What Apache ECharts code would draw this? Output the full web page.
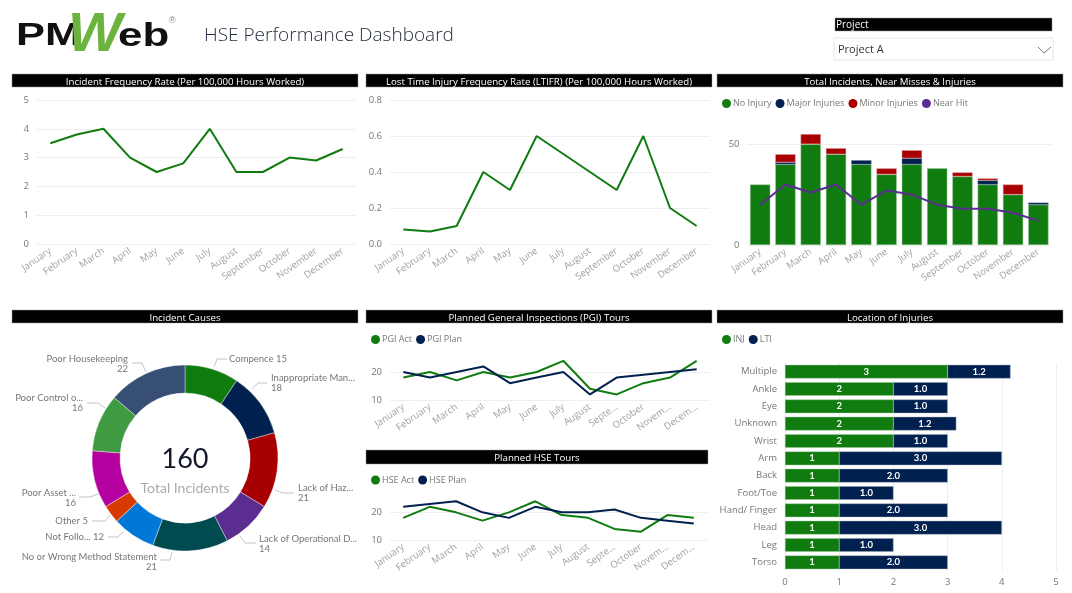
<!DOCTYPE html>
<html><head><meta charset="utf-8">
<style>html,body{margin:0;padding:0;background:#fff}#c{width:1072px;height:593px}</style>
<script src="https://cdn.jsdelivr.net/npm/echarts@6/dist/echarts.min.js"></script>
</head><body><div id="c"></div>
<script>
const months = ["January","February","March","April","May","June","July","August","September","October","November","December"];
const monthsShort = ["January","February","March","April","May","June","July","August","Septe...","October","Novem...","Decem..."];
const incidentRate = [3.5,3.8,4,3,2.5,2.8,4,2.5,2.5,3,2.9,3.3];
const ltifr = [0.08,0.07,0.1,0.4,0.3,0.6,0.5,0.4,0.3,0.6,0.2,0.1];
const noInjury = [30,40,50,45,40,35,40,38,34,30,25,20];
const majorInjuries = [0,1,0,0,2,0,3,0,0,2,0,1];
const minorInjuries = [0,4,5,3,0,3,4,0,2,1,5,0];
const nearHit = [20,30,26,30,20,27,25,20,18,18,16,12];
const pgiAct = [18,20,17,20,18,20,24,14,12,16,18,24];
const pgiPlan = [20,18,20,22,16,18,20,12,18,19,20,21];
const hseAct = [18,22,20,17,20,24,19,18,14,13,19,18];
const hsePlan = [22,23,24,20,18,22,20,20,21,18,17,16];
const causes = ["Compence","Inappropriate Man...","Lack of Haz...","Lack of Operational D...","No or Wrong Method Statement","Not Follo...","Other","Poor Asset ...","Poor Control o...","Poor Housekeeping"];
const causeValues = [15,18,21,14,21,12,5,16,16,22];
const locations = ["Multiple","Ankle","Eye","Unknown","Wrist","Arm","Back","Foot/Toe","Hand/ Finger","Head","Leg","Torso"];
const inj = [3,2,2,2,2,1,1,1,1,1,1,1];
const lti = [1.16,1,1,1.16,1,3,2,1,2,3,1,2];

const GREEN="#107c10",NAVY="#002050",RED="#a80000",PURPLE="#5c2d91";
const causeColors=[GREEN,NAVY,RED,PURPLE,"#004b50","#0078d7","#d83b01","#b4009e","#3f9a42","#374f74"];
const FONT='"Open Sans","Noto Sans",sans-serif';
const DFONT='"Lato","Noto Sans",sans-serif';

// label anchor and leader line for each donut slice
const donutPlace=[
 {x:229,y:359,a:"left",l:[[214,367],[217,359],[227,359]],one:1},
 {x:271,y:383,a:"left",l:[[252,389],[258,383],[267,383]]},
 {x:298,y:493,a:"left",l:[[275,490],[283,493],[294,493]]},
 {x:259,y:544,a:"left",l:[[240,536],[245,543],[256,543]]},
 {x:157,y:562,a:"right",l:[[172,552],[170,560],[160,560]]},
 {x:104,y:537,a:"right",l:[[124,531],[118,537],[108,537]],one:1},
 {x:88,y:521,a:"right",l:[[110,515],[105,521],[92,521]],one:1},
 {x:76,y:498,a:"right",l:[[98,494],[90,497],[79,497]]},
 {x:83,y:403,a:"right",l:[[105,408],[98,403],[87,403]]},
 {x:128,y:364,a:"right",l:[[146,372],[142,363],[132,363]]}
];

const panels=[
 {t:"Incident Frequency Rate (Per 100,000 Hours Worked)",x:12,w:346,y:74,h:13},
 {t:"Lost Time Injury Frequency Rate (LTIFR) (Per 100,000 Hours Worked)",x:366,w:346,y:74,h:13},
 {t:"Total Incidents, Near Misses & Injuries",x:717,w:346,y:74,h:13},
 {t:"Incident Causes",x:12,w:346,y:310,h:13},
 {t:"Planned General Inspections (PGI) Tours",x:366,w:346,y:310,h:13},
 {t:"Planned HSE Tours",x:366,w:342,y:450,h:14},
 {t:"Location of Injuries",x:717,w:346,y:310,h:13}
];

const titles=panels.map(p=>({text:p.t,left:p.x+p.w/2,top:p.y+p.h/2-5.5,textAlign:"center",padding:0,
  textStyle:{color:"#fff",fontFamily:FONT,fontSize:9.7,fontWeight:"normal",lineHeight:14}}));
titles.push({text:"HSE Performance Dashboard",left:204,top:22,padding:0,textStyle:{color:"#252d40",fontFamily:FONT,fontWeight:300,fontSize:19,lineHeight:28}});
titles.push({text:"160",left:185,top:441,textAlign:"center",padding:0,textStyle:{color:"#14182a",fontFamily:DFONT,fontSize:27,fontWeight:"normal",lineHeight:36}});
titles.push({text:"Total Incidents",left:185,top:479,textAlign:"center",padding:0,textStyle:{color:"#aaaaaa",fontFamily:DFONT,fontSize:14,fontWeight:"normal",lineHeight:18}});

const grids=[
 {left:37,right:716,top:100,bottom:349},
 {left:390,right:362,top:100,bottom:349},
 {left:747.5,right:21,top:124,bottom:348},
 {left:390,right:362,top:358,bottom:193},
 {left:390,right:365,top:498.5,bottom:53},
 {left:785,right:16,top:363,bottom:22}
];
const catAxis=(g,data)=>({type:"category",gridIndex:g,data,boundaryGap:true,axisLine:{show:false},axisTick:{show:false},
  axisLabel:{interval:0,rotate:35,color:"#a0a0a0",fontFamily:FONT,fontSize:9.5,margin:6}});
const valAxis=(g,o)=>Object.assign({type:"value",gridIndex:g,axisLine:{show:false},axisTick:{show:false},
  axisLabel:{color:"#777",fontFamily:FONT,fontSize:9.5,margin:8,showMaxLabel:true},
  splitLine:{lineStyle:{color:"#eeeeee",width:1}}},o);
const line=(name,i,data,color)=>({name,type:"line",xAxisIndex:i,yAxisIndex:i,data,showSymbol:false,symbol:"none",
  lineStyle:{color,width:2},itemStyle:{color},z:5});
const stack=(name,data,color,border)=>({name,type:"bar",xAxisIndex:2,yAxisIndex:2,stack:"a",data:data.map(v=>v||null),barWidth:"80%",
  itemStyle:{color,borderColor:border,borderWidth:0.5}});
const hide=(o)=>{o.axisLabel.showMaxLabel=false;o.splitLine.showMaxLine=false;return o;};
const legend=(x,y,names)=>({left:x,top:y,padding:0,icon:"circle",itemWidth:9,itemHeight:9,itemGap:4,selectedMode:false,data:names,
  itemStyle:{borderWidth:0},
  textStyle:{color:"#777",fontFamily:FONT,fontSize:9,padding:[0,0,0,-3]}});

const option={
 animation:false,
 title:titles,
 grid:grids,
 legend:[
  legend(722,99,["No Injury","Major Injuries","Minor Injuries","Near Hit"]),
  legend(371,335,["PGI Act","PGI Plan"]),
  legend(371,475.5,["HSE Act","HSE Plan"]),
  legend(722,335,["INJ","LTI"])
 ],
 xAxis:[
  catAxis(0,months),catAxis(1,months),catAxis(2,months),catAxis(3,monthsShort),catAxis(4,monthsShort),
  {type:"value",gridIndex:5,min:0,max:5,interval:1,axisLine:{show:false},axisTick:{show:false},
   axisLabel:{color:"#777",fontFamily:FONT,fontSize:9.5,margin:6},splitLine:{lineStyle:{color:"#eeeeee"}}}
 ],
 yAxis:[
  valAxis(0,{min:0,max:5,interval:1}),
  valAxis(1,{min:0,max:0.8,interval:0.2,axisLabel:{color:"#777",fontFamily:FONT,fontSize:9.5,margin:8,formatter:v=>v.toFixed(1)}}),
  hide(valAxis(2,{min:0,max:60,interval:50})),
  hide(valAxis(3,{min:10,max:25,interval:10})),
  hide(valAxis(4,{min:10,max:25,interval:10})),
  {type:"category",gridIndex:5,data:locations,inverse:true,axisLine:{show:false},axisTick:{show:false},
   axisLabel:{interval:0,color:"#777",fontFamily:FONT,fontSize:9.5,margin:8}}
 ],
 series:[
  line("Incident Frequency",0,incidentRate,GREEN),
  line("LTIFR",1,ltifr,GREEN),
  stack("No Injury",noInjury,GREEN,"#9fcb9f"),
  stack("Major Injuries",majorInjuries,NAVY,"#5a6f8f"),
  stack("Minor Injuries",minorInjuries,RED,"#dc9999"),
  line("Near Hit",2,nearHit,PURPLE),
  line("PGI Act",3,pgiAct,GREEN),
  line("PGI Plan",3,pgiPlan,NAVY),
  line("HSE Act",4,hseAct,GREEN),
  line("HSE Plan",4,hsePlan,NAVY),
  {name:"Incident Causes",type:"pie",center:[185,458],radius:[65,93],startAngle:90,clockwise:true,avoidLabelOverlap:false,
   data:causes.map((n,i)=>({name:n,value:causeValues[i],itemStyle:{color:causeColors[i]}})),
   itemStyle:{borderColor:"#fff",borderWidth:0.4},
   label:{show:true,position:"outside",color:"#777",fontFamily:DFONT,fontSize:9.5,lineHeight:10,
     formatter:p=>p.name+(donutPlace[p.dataIndex].one?" ":"\n")+p.value},
   labelLine:{show:true,lineStyle:{color:"#c4c4c4",width:1}},
   labelLayout:p=>{const d=donutPlace[p.dataIndex];return {x:d.x,y:d.y,align:d.a,verticalAlign:"middle",labelLinePoints:d.l};}
  },
  {name:"INJ",type:"bar",xAxisIndex:5,yAxisIndex:5,stack:"b",data:inj,barWidth:"78%",
   itemStyle:{color:GREEN,borderColor:"#9fcb9f",borderWidth:0.4},
   label:{show:true,position:"inside",color:"#fff",fontFamily:DFONT,fontSize:9.5,fontWeight:"bold"}},
  {name:"LTI",type:"bar",xAxisIndex:5,yAxisIndex:5,stack:"b",data:lti,barWidth:"78%",
   itemStyle:{color:NAVY,borderColor:"#99a6b9",borderWidth:0.4},
   label:{show:true,position:"inside",color:"#fff",fontFamily:DFONT,fontSize:9.5,fontWeight:"bold",formatter:p=>p.value.toFixed(1)}}
 ],
 graphic:{elements:[
  ...panels.map(p=>({type:"rect",z:-1,shape:{x:p.x,y:p.y,width:p.w,height:p.h},style:{fill:"#000",stroke:"#9a9a9a",lineWidth:0.5}})),
  {type:"text",x:16,y:21,style:{text:"PM",fill:"#111",font:'900 31px "Liberation Sans"'},scaleX:1.4,z:5},
  {type:"text",x:118,y:20,style:{text:"eb",fill:"#111",font:'900 33px "Liberation Sans"'},scaleX:1.33,z:5},
  {type:"text",x:68,y:8,style:{text:"W",fill:"#6db33f",font:'italic 700 56px "Liberation Sans"'},scaleX:1.02,z:6},
  {type:"text",x:169,y:16,style:{text:"®",fill:"#888",font:'9px "Liberation Sans"'}},
  {type:"rect",shape:{x:835,y:18,width:217,height:13},style:{fill:"#000",stroke:"#999",lineWidth:0.5}},
  {type:"text",x:836,y:19,style:{text:"Project",fill:"#fff",font:'10px "Open Sans"',lineHeight:13}},
  {type:"rect",shape:{x:834,y:38,width:219,height:22},style:{fill:"#fff",stroke:"#e6e6e6",lineWidth:1}},
  {type:"text",x:838,y:44,style:{text:"Project A",fill:"#333",font:'11px "Open Sans"'}},
  {type:"polyline",shape:{points:[[1038,47],[1044,53],[1051,47]]},style:{stroke:"#777",fill:"none",lineWidth:1}}
 ]}
};
echarts.init(document.getElementById("c"),null,{renderer:"canvas"}).setOption(option);
</script></body></html>
